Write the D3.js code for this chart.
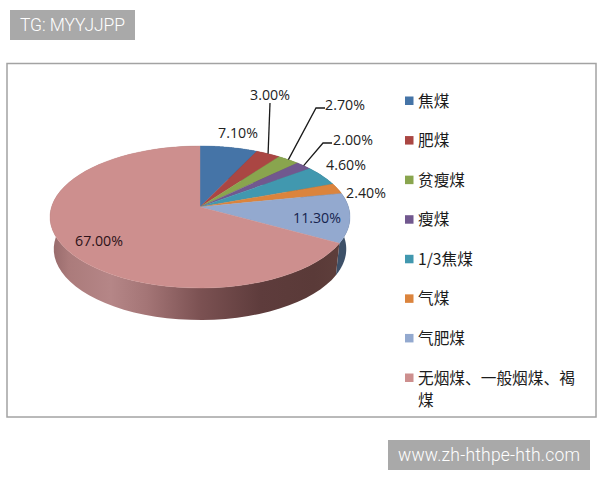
<!DOCTYPE html>
<html><head><meta charset="utf-8">
<script src="https://cdn.jsdelivr.net/npm/d3@7/dist/d3.min.js"></script>
<style>html,body{margin:0;padding:0;background:#fff}svg{display:block}</style>
</head><body><svg id="c" width="600" height="480"></svg>
<script>
const categories = ["焦煤","肥煤","贫瘦煤","瘦煤","1/3焦煤","气煤","气肥煤","无烟煤、一般烟煤、褐煤"];
const values = [7.1,3.0,2.7,2.0,4.6,2.4,11.3,67.0];
const valueLabels = ["7.10%","3.00%","2.70%","2.00%","4.60%","2.40%","11.30%","67.00%"];
const colors = ["#4574a7","#aa4643","#89a54e","#71588f","#4198af","#db843d","#93a9cf","#cd8f8e"];
const sideColors = ["#2f4f72","#74302e","#5e7035","#4d3c62","#2c6878","#95592a","#3d5068","url(#sidePink)"];
const labelPos = [[238,133],[270,95],[345,105],[353,140],[346,165],[366,193],[317,218],[99,241]];
const labelInk = ["#222","#222","#222","#222","#222","#222","#16244e","#2c1218"];
const leaders = {1:[[270,103]],2:[[316,108],[325,108]],3:[[323,143],[332,143]]};

const svg = d3.select("#c");
const apex = [200,207], a = 148.5, b = 69.6, k = -0.141, depth = 32, bottomScale = 0.975;
const project = (t, dy=0, sx=1) => {
  const u = Math.sin(t), v = -Math.cos(t), w = 1 + k*v;
  return [apex[0] + sx*a*u/w, apex[1] + b*v/w + dy];
};
const arcs = d3.pie().sort(null)(values);
const samples = (s,e) => d3.range(0,61).map(i => s + (e-s)*i/60);
const line = d3.line();

// frame
svg.append("rect").attr("x",7).attr("y",63.5).attr("width",589).attr("height",353.5)
  .attr("fill","#fff").attr("stroke","#a3a3a3").attr("stroke-width",1.5);

// banners
const banner = (x,y,w,h,txt,tx,len) => {
  svg.append("rect").attr("x",x).attr("y",y).attr("width",w).attr("height",h).attr("fill","#a9a9a9");
  svg.append("text").attr("x",tx).attr("y",y+h/2+6).text(txt).attr("fill","#fff")
    .attr("font-family","Roboto,sans-serif").attr("font-weight",300).attr("font-size",17.5)
    .attr("textLength",len).attr("lengthAdjust","spacing");
};
banner(10,10,125,30,"TG: MYYJJPP",20,105);
banner(388,440,202,30,"www.zh-hthpe-hth.com",398,182);

// gradient of the side wall
const g = svg.append("defs").append("linearGradient").attr("id","sidePink")
  .attr("gradientUnits","userSpaceOnUse").attr("x1",51).attr("x2",350).attr("y1",0).attr("y2",0);
[[0,"#96696a"],[0.06,"#ab7b7b"],[0.2,"#b58687"],[0.32,"#a47576"],[0.5,"#7b5152"],[0.7,"#5e3c3c"],[0.88,"#5a3a38"],[1,"#5f403c"]]
  .forEach(d => g.append("stop").attr("offset",d[0]).attr("stop-color",d[1]));

// side walls, then top faces cover whatever is behind
svg.append("g").selectAll("path").data(arcs).join("path")
  .attr("fill",(d,i)=>sideColors[i])
  .attr("d",d=>{
    const ts = samples(d.startAngle,d.endAngle);
    return line(ts.map(t=>project(t)).concat(ts.slice().reverse().map(t=>project(t,depth,bottomScale))))+"Z";
  });
svg.append("g").selectAll("path").data(arcs).join("path")
  .attr("fill",(d,i)=>colors[i])
  .attr("stroke",(d,i)=>colors[i]).attr("stroke-width",0.4)
  .attr("d",d=>line([apex].concat(samples(d.startAngle,d.endAngle).map(t=>project(t))))+"Z");

// leader lines
Object.keys(leaders).forEach(i=>{
  const d = arcs[i], m = (d.startAngle+d.endAngle)/2;
  svg.append("path").attr("fill","none").attr("stroke","#1a1a1a").attr("stroke-width",1.3)
    .attr("d",line([project(m)].concat(leaders[i])));
});

// value labels
svg.append("g").selectAll("text").data(valueLabels).join("text")
  .attr("x",(d,i)=>labelPos[i][0]).attr("y",(d,i)=>labelPos[i][1]+5)
  .attr("text-anchor","middle").attr("fill",(d,i)=>labelInk[i])
  .attr("font-family","'Open Sans',sans-serif").attr("font-size",14.2).text(d=>d);

// legend
const legendY = d3.scalePoint().domain(categories).range([101,378]);
const lg = svg.append("g").selectAll("g").data(categories).join("g")
  .attr("transform",d=>`translate(405,${legendY(d)})`);
lg.append("rect").attr("x",0).attr("y",-4.5).attr("width",8.5).attr("height",8.5)
  .attr("fill",(d,i)=>colors[i]);
lg.each(function(d){
  const chunks = d.length>10 ? [d.slice(0,10),d.slice(10)] : [d];
  chunks.forEach((c,j)=>{
    d3.select(this).append("text").attr("x",13).attr("y",5.5+j*22.5).text(c)
      .attr("fill","#1c1c1c").attr("font-family","'Noto Sans CJK SC',sans-serif")
      .attr("font-size",15.7);
  });
});
</script></body></html>
